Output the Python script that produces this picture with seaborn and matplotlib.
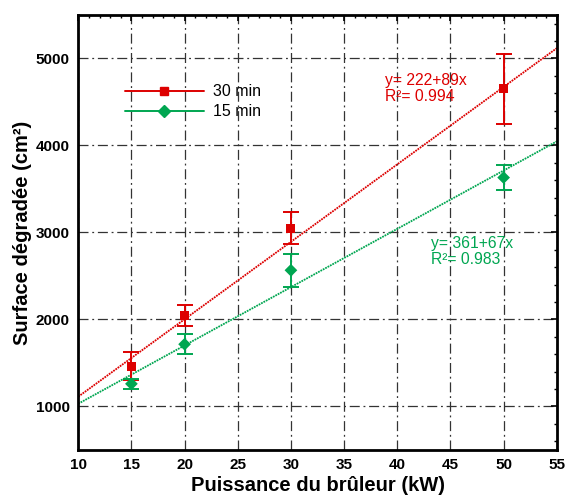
import matplotlib
matplotlib.use("Agg")
import matplotlib.pyplot as plt
import seaborn as sns
import numpy as np
import pandas as pd
from matplotlib.ticker import MultipleLocator
from matplotlib.lines import Line2D

# Data
power = [15, 20, 30, 50]
surf_30 = [1460, 2050, 3050, 4650]
err_30 = [160, 120, 180, 400]
surf_15 = [1260, 1715, 2565, 3630]
err_15 = [60, 115, 190, 140]
fit_30 = (222, 89)
fit_15 = (361, 67)
x_fit = [10, 55]

red = "#dd0000"
green = "#00a651"

sns.set_style("white")
plt.rcParams['font.family'] = ['Liberation Sans', 'DejaVu Sans']
plt.rcParams['text.color'] = 'black'
plt.rcParams['axes.labelcolor'] = 'black'
plt.rcParams['xtick.color'] = 'black'
plt.rcParams['ytick.color'] = 'black'

fig = plt.figure(figsize=(5.67, 4.95), dpi=100)
ax = fig.add_axes([0.138, 0.091, 0.844, 0.879])

# fit lines
for (a, b), c in [(fit_30, red), (fit_15, green)]:
    xs = np.array(x_fit, dtype=float)
    sns.lineplot(x=xs, y=a + b * xs, color=c, lw=1.3, ax=ax, linestyle=(0, (1, 0.5)))

# error bars
ax.errorbar(power, surf_30, yerr=err_30, fmt="none", ecolor=red, elinewidth=1.4, capsize=5.5, capthick=1.4, zorder=3)
ax.errorbar(power, surf_15, yerr=err_15, fmt="none", ecolor=green, elinewidth=1.4, capsize=5.5, capthick=1.4, zorder=3)

df = pd.DataFrame({"x": power * 2, "y": surf_30 + surf_15,
                   "s": ["30 min"] * 4 + ["15 min"] * 4})
sns.scatterplot(data=df, x="x", y="y", hue="s", style="s",
                palette={"30 min": red, "15 min": green},
                markers={"30 min": "s", "15 min": "D"},
                s=42, edgecolor="none", ax=ax, zorder=4, legend=False)

h = [Line2D([], [], color=red, marker="s", ms=6, lw=1.4),
     Line2D([], [], color=green, marker="D", ms=6.5, lw=1.4)]
ax.legend(h, ["30 min", "15 min"], loc="center left", bbox_to_anchor=(0.085, 0.80),
          borderaxespad=0, frameon=False, handlelength=4.9, fontsize=11.5,
          labelspacing=0.3, handletextpad=0.6)

fs = 11.3
ax.text(38.8, 4750, "y= 222+89x", color=red, fontsize=fs, va="center")
ax.text(38.8, 4565, "R²= 0.994", color=red, fontsize=fs, va="center")
ax.text(43.2, 2875, "y= 361+67x", color=green, fontsize=fs, va="center")
ax.text(43.2, 2690, "R²= 0.983", color=green, fontsize=fs, va="center")

ax.set_xlim(10, 55)
ax.set_ylim(500, 5500)
ax.xaxis.set_major_locator(MultipleLocator(5))
ax.xaxis.set_minor_locator(MultipleLocator(1))
ax.yaxis.set_major_locator(MultipleLocator(1000))
ax.yaxis.set_minor_locator(MultipleLocator(200))
ax.tick_params(which="both", direction="in", top=True, right=True, length=4, width=1.2, labelsize=11, pad=6)
ax.tick_params(which="minor", length=2.5, width=1)
for lab in ax.get_xticklabels() + ax.get_yticklabels():
    lab.set_fontweight("bold")
ax.grid(True, which="major", color="#333333", linestyle=(0, (8, 3, 1.5, 3)), lw=0.9)
for sp in ax.spines.values():
    sp.set_linewidth(2)
    sp.set_color("black")
ax.set_xlabel("Puissance du brûleur (kW)", fontsize=14.5, fontweight="bold", labelpad=3)
ax.set_ylabel("Surface dégradée (cm²)", fontsize=14.5, fontweight="bold", labelpad=3)

fig.savefig("out.png", dpi=100)
